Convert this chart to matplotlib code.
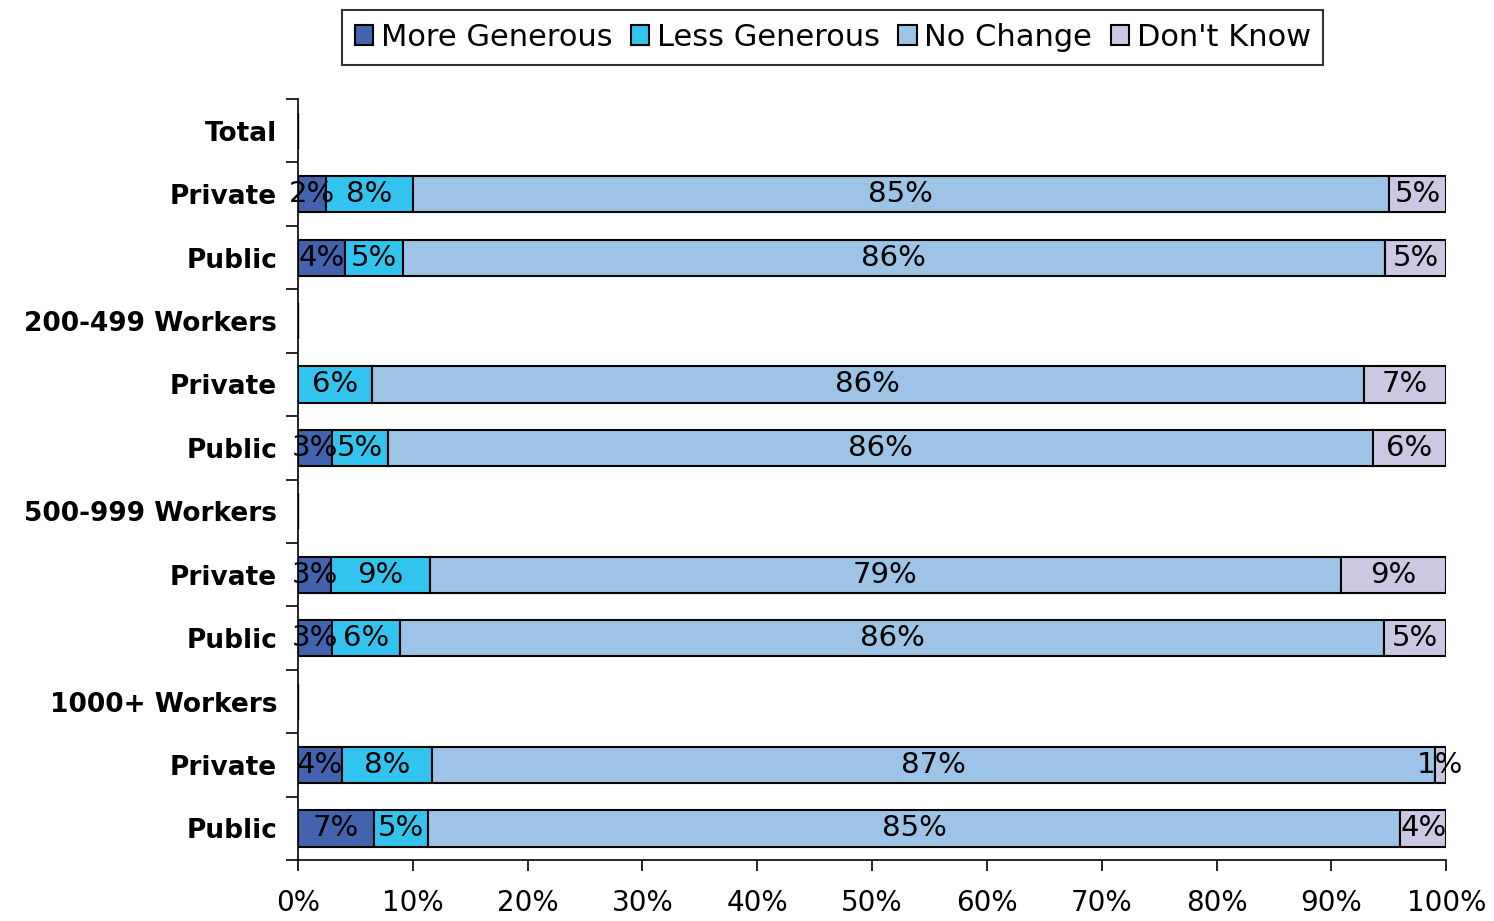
import matplotlib.pyplot as plt
from matplotlib.ticker import FixedLocator, PercentFormatter
import numpy as np

# Data (shares in %, rows from top to bottom; header rows have no bar)
rows = ["Total", "Private", "Public",
        "200-499 Workers", "Private", "Public",
        "500-999 Workers", "Private", "Public",
        "1000+ Workers", "Private", "Public"]
more_generous = [0, 2.4, 4.1, 0, 0.0, 3.0, 0, 2.9, 3.0, 0, 3.8, 6.6]
less_generous = [0, 7.6, 5.0, 0, 6.4, 4.8, 0, 8.6, 5.9, 0, 7.9, 4.7]
no_change     = [0, 85.0, 85.6, 0, 86.4, 85.8, 0, 79.3, 85.7, 0, 87.3, 84.7]
dont_know     = [0, 5.0, 5.3, 0, 7.2, 6.4, 0, 9.2, 5.4, 0, 1.0, 4.0]

series = ["More Generous", "Less Generous", "No Change", "Don't Know"]
colors = ["#4463AE", "#33C3EF", "#9DC3E6", "#CBC8E4"]

plt.rcParams['font.family'] = ['DejaVu Sans']

fig = plt.figure(figsize=(14.94, 9.21), dpi=100)
ax = fig.add_axes([0.1995, 0.066, 0.7685, 0.8265])

y = np.arange(len(rows))
left = np.zeros(len(rows))
for name, vals, col in zip(series, [more_generous, less_generous, no_change, dont_know], colors):
    vals = np.array(vals, dtype=float)
    ax.barh(y, vals, left=left, height=0.57, color=col,
            edgecolor="black", linewidth=1.5, label=name)
    for yi, l, v in zip(y, left, vals):
        if v > 0:
            ax.text(l + v / 2, yi, f"{v:.0f}%", ha="center", va="center",
                    fontsize=21, color="black")
    left += vals

ax.set_xlim(0, 100)
ax.set_ylim(len(rows) - 0.5, -0.5)
ax.set_yticks(y)
ax.set_yticklabels(rows, fontsize=19, fontweight="bold")
ax.yaxis.set_minor_locator(FixedLocator(np.arange(-0.5, len(rows), 1)))
ax.tick_params(axis="y", which="major", length=0, pad=15)
ax.tick_params(axis="y", which="minor", length=9, width=1.2)

ax.set_xticks(np.arange(0, 101, 10))
ax.xaxis.set_major_formatter(PercentFormatter(decimals=0))
ax.tick_params(axis="x", length=8, width=1.2, labelsize=20, pad=13)

for s in ["top", "right"]:
    ax.spines[s].set_visible(False)
for s in ["left", "bottom"]:
    ax.spines[s].set_linewidth(1.2)

leg = fig.legend(loc="upper center", bbox_to_anchor=(0.5575, 0.989), ncol=4,
                 fontsize=22, frameon=True, fancybox=False, edgecolor="black",
                 handlelength=0.6, handleheight=0.6, handletextpad=0.25,
                 columnspacing=0.6, borderpad=0.42, borderaxespad=0)
leg.get_frame().set_linewidth(1.5)

fig.savefig("out.png", dpi=100)
